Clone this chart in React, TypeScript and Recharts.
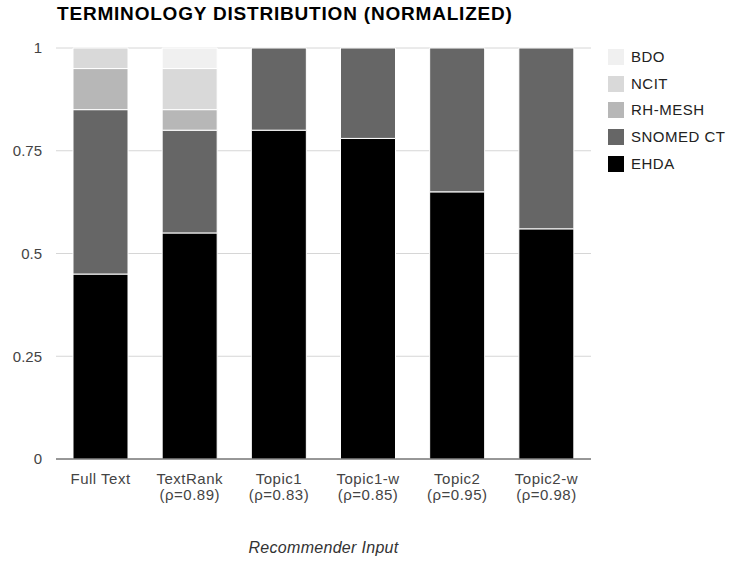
import { BarChart, Bar, XAxis, YAxis, CartesianGrid, Label } from "recharts";

const categories = ["Full Text", "TextRank", "Topic1", "Topic1-w", "Topic2", "Topic2-w"];
const subLabels = ["", "(ρ=0.89)", "(ρ=0.83)", "(ρ=0.85)", "(ρ=0.95)", "(ρ=0.98)"];

const ehda = [0.45, 0.55, 0.8, 0.78, 0.65, 0.56];
const snomed = [0.4, 0.25, 0.2, 0.22, 0.35, 0.44];
const rhMesh = [0.1, 0.05, 0, 0, 0, 0];
const ncit = [0.05, 0.1, 0, 0, 0, 0];
const bdo = [0, 0.05, 0, 0, 0, 0];

const yTicks = [0, 0.25, 0.5, 0.75, 1];

// stack order bottom -> top
const SERIES = [
  { key: "EHDA", values: ehda, color: "#000000" },
  { key: "SNOMED CT", values: snomed, color: "#666666" },
  { key: "RH-MESH", values: rhMesh, color: "#b7b7b7" },
  { key: "NCIT", values: ncit, color: "#d9d9d9" },
  { key: "BDO", values: bdo, color: "#f0f0f0" },
];

const data = categories.map((name, i) => {
  const row: Record<string, string | number> = { name, sub: subLabels[i] };
  SERIES.forEach((s) => (row[s.key] = s.values[i]));
  return row;
});

const FONT = "'Liberation Sans', Arial, sans-serif";

function XTick({ x, y, payload, index }: any) {
  return (
    <text x={x} y={y} textAnchor="middle" fill="#444" fontSize={15} fontFamily={FONT} letterSpacing={0.5}>
      <tspan x={x} dy={25}>{payload.value}</tspan>
      {subLabels[index] ? <tspan x={x} dy={16}>{subLabels[index]}</tspan> : null}
    </text>
  );
}

export default function App() {
  const legendItems = [...SERIES].reverse();
  return (
    <div style={{ position: "absolute", left: 0, top: 0, width: 729, height: 561, background: "#fff", fontFamily: FONT }}>
      <div style={{ position: "absolute", left: 57, top: 3, fontSize: 19, fontWeight: "bold", color: "#000", whiteSpace: "nowrap", letterSpacing: 0.8 }}>
        TERMINOLOGY DISTRIBUTION (NORMALIZED)
      </div>
      <BarChart
        width={729}
        height={561}
        data={data}
        margin={{ top: 48, right: 138, bottom: 0, left: 0 }}
        barSize={55}
      >
        <CartesianGrid vertical={false} stroke="#d6d6d6" />
        <YAxis
          width={56}
          domain={[0, 1]}
          ticks={yTicks}
          tickFormatter={(v: number) => String(v)}
          axisLine={false}
          tickLine={false}
          tickSize={0}
          tickMargin={14}
          tick={{ fill: "#444", fontSize: 15, fontFamily: FONT }}
        />
        <XAxis
          dataKey="name"
          height={102}
          axisLine={{ stroke: "#444" }}
          tickLine={false}
          tickSize={0}
          tickMargin={0}
          interval={0}
          tick={<XTick />}
        >
          <Label
            value="Recommender Input"
            position="insideBottom"
            offset={8}
            style={{ fontStyle: "italic", fontSize: 16, fill: "#333", fontFamily: FONT, letterSpacing: 0.3 }}
          />
        </XAxis>
        {SERIES.map((s) => (
          <Bar
            key={s.key}
            dataKey={s.key}
            stackId="a"
            fill={s.color}
            stroke="#fff"
            strokeWidth={1}
            isAnimationActive={false}
          />
        ))}
      </BarChart>
      <div style={{ position: "absolute", left: 608, top: 43.5 }}>
        {legendItems.map((s) => (
          <div key={s.key} style={{ display: "flex", alignItems: "center", height: 26.75 }}>
            <span style={{ width: 16, height: 16, background: s.color, display: "inline-block", marginRight: 7, flexShrink: 0 }} />
            <span style={{ fontSize: 15, color: "#222", lineHeight: "16px", letterSpacing: 0.5, whiteSpace: "nowrap" }}>{s.key}</span>
          </div>
        ))}
      </div>
    </div>
  );
}
